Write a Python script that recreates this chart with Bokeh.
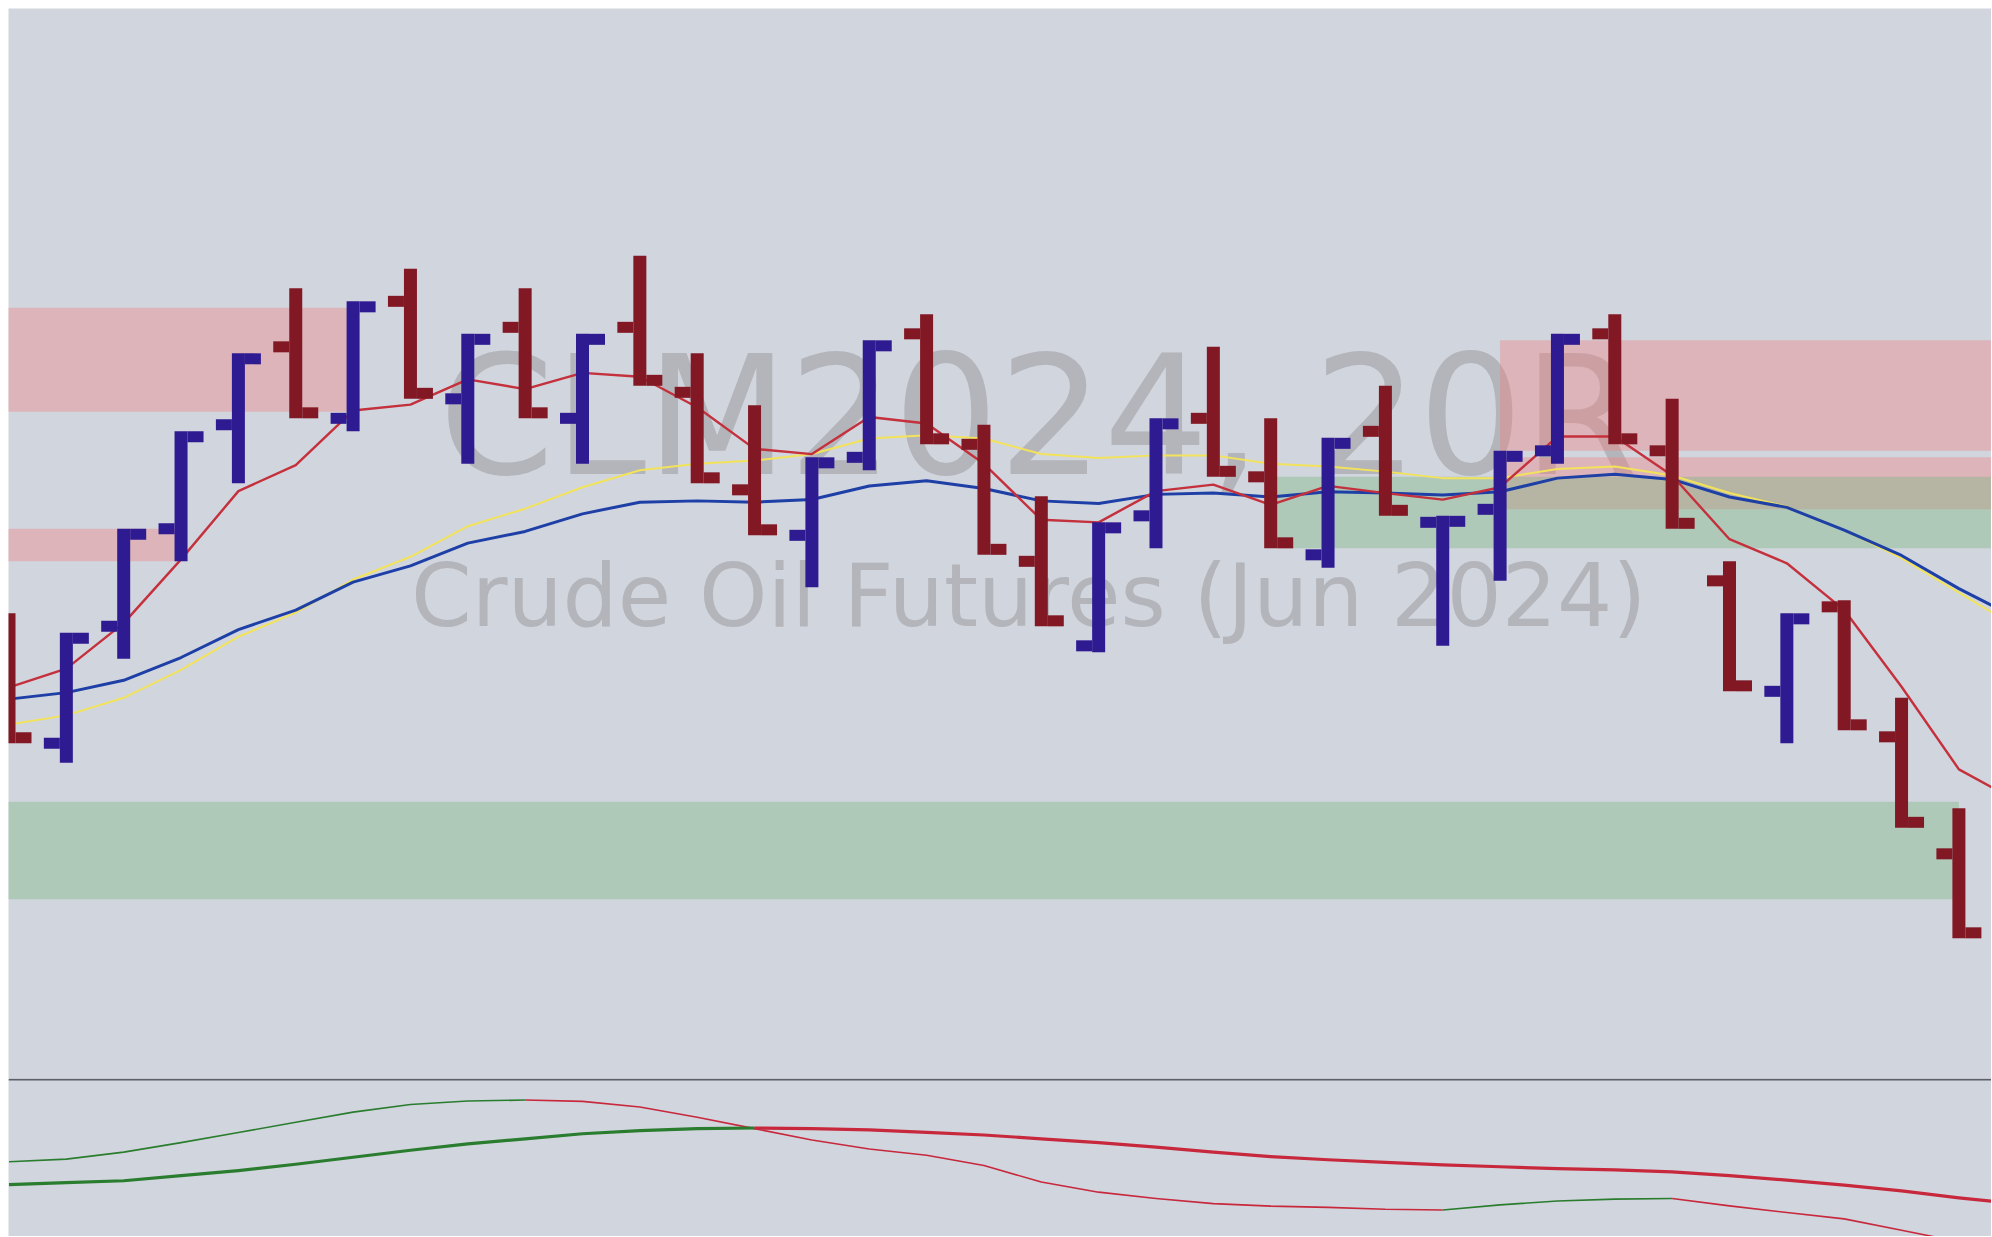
from bokeh.plotting import figure
from bokeh.models import Range1d, Label, ColumnDataSource, Span
from bokeh.layouts import column
from bokeh.transform import dodge
from bokeh.embed import file_html
from bokeh.resources import INLINE

# ---------------- data ----------------
bar_index = list(range(36))
bar_dir = ["dn", "up", "up", "up", "up", "dn", "up", "dn", "up", "dn", "up", "dn",
           "dn", "dn", "up", "up", "dn", "dn", "dn", "up", "up", "dn", "dn", "up",
           "dn", "up", "up", "up", "dn", "dn", "dn", "up", "dn", "dn", "dn", "up"]
opens = [78.83, 78.65, 78.83, 78.98, 79.14, 79.26, 79.15, 79.33, 79.18, 79.29, 79.15, 79.29,
         79.19, 79.04, 78.97, 79.09, 79.28, 79.11, 78.93, 78.80, 79.00, 79.15, 79.06, 78.94,
         79.13, 78.99, 79.01, 79.10, 79.28, 79.10, 78.90, 78.73, 78.86, 78.66, 78.48, 78.31]
highs = [78.85, 78.82, 78.98, 79.13, 79.25, 79.35, 79.33, 79.38, 79.28, 79.35, 79.28, 79.40,
         79.25, 79.17, 79.09, 79.27, 79.31, 79.14, 79.03, 78.99, 79.15, 79.26, 79.15, 79.12,
         79.20, 79.00, 79.10, 79.28, 79.31, 79.18, 78.93, 78.85, 78.87, 78.72, 78.55, 78.50]
lows = [78.65, 78.62, 78.78, 78.93, 79.05, 79.15, 79.13, 79.18, 79.08, 79.15, 79.08, 79.20,
        79.05, 78.97, 78.89, 79.07, 79.11, 78.94, 78.83, 78.79, 78.95, 79.06, 78.95, 78.92,
        79.00, 78.80, 78.90, 79.08, 79.11, 78.98, 78.73, 78.65, 78.67, 78.52, 78.35, 78.30]
closes = [78.65, 78.82, 78.98, 79.13, 79.25, 79.15, 79.33, 79.18, 79.28, 79.15, 79.28, 79.20,
          79.05, 78.97, 79.09, 79.27, 79.11, 78.94, 78.83, 78.99, 79.15, 79.06, 78.95, 79.12,
          79.00, 79.00, 79.10, 79.28, 79.11, 78.98, 78.73, 78.85, 78.67, 78.52, 78.35, 78.50]

ma_fast = [78.736, 78.765, 78.835, 78.933, 79.038, 79.078, 79.162, 79.171, 79.210, 79.195,
           79.220, 79.214, 79.167, 79.103, 79.095, 79.152, 79.142, 79.080, 78.994, 78.990,
           79.038, 79.048, 79.017, 79.046, 79.035, 79.025, 79.044, 79.122, 79.122, 79.062,
           78.964, 78.927, 78.855, 78.737, 78.610, 78.562]
ma_slow = [78.718, 78.728, 78.747, 78.782, 78.825, 78.855, 78.898, 78.923, 78.958, 78.976,
           79.003, 79.021, 79.023, 79.021, 79.025, 79.046, 79.054, 79.042, 79.023, 79.019,
           79.033, 79.035, 79.029, 79.037, 79.035, 79.032, 79.037, 79.058, 79.064, 79.056,
           79.029, 79.013, 78.978, 78.939, 78.888, 78.843]
ma_mid = [78.679, 78.693, 78.720, 78.763, 78.814, 78.851, 78.902, 78.937, 78.984, 79.011,
          79.044, 79.070, 79.080, 79.085, 79.095, 79.119, 79.124, 79.119, 79.095, 79.089,
          79.093, 79.093, 79.080, 79.076, 79.068, 79.058, 79.058, 79.072, 79.076, 79.062,
          79.035, 79.014, 78.978, 78.935, 78.882, 78.829]

# supply / demand zones
zone_kind = ["supply", "supply", "demand", "supply", "supply", "demand"]
zone_start = [-1, -1, -1, 26, 26, 22]
zone_end = [6, 3, 34, 37, 37, 37]
zone_top = [79.32, 78.98, 78.56, 79.27, 79.09, 79.06]
zone_bottom = [79.16, 78.93, 78.41, 79.10, 79.01, 78.95]

# lower panel oscillator
osc_fast = [0.036, 0.038, 0.0435, 0.051, 0.059, 0.067, 0.075, 0.081, 0.0838, 0.0845,
            0.0835, 0.079, 0.071, 0.062, 0.053, 0.046, 0.041, 0.033, 0.020, 0.012,
            0.007, 0.003, 0.001, 0.000, -0.0015, -0.002, 0.002, 0.005, 0.0065, 0.007,
            0.0012, -0.004, -0.009, -0.018, -0.027, -0.037]
osc_slow = [0.018, 0.0195, 0.021, 0.025, 0.029, 0.034, 0.0395, 0.045, 0.050, 0.054,
            0.058, 0.0605, 0.062, 0.0625, 0.062, 0.061, 0.059, 0.057, 0.054, 0.051,
            0.0475, 0.0435, 0.040, 0.0375, 0.0355, 0.0335, 0.032, 0.0305, 0.0295, 0.028,
            0.025, 0.0215, 0.0175, 0.013, 0.0075, 0.003]

title_line1 = "CLM2024, 20R"
title_line2 = "Crude Oil Futures (Jun 2024)"

# ---------------- style ----------------
BG = "#d1d5de"
UP = "#2e1a91"
DN = "#821824"
MARGIN = 8
W = 1991
H1 = 1078            # includes 8px top margin
H2 = 158
FRAME_W = W - MARGIN
FRAME_H1 = H1 - MARGIN
x_rng = (-0.0087, -0.0087 + FRAME_W / 57.35)
y_rng = (79.7805 - FRAME_H1 / 650.0, 79.7805)

xpx = FRAME_W / (x_rng[1] - x_rng[0])   # px per bar
ypx = FRAME_H1 / (y_rng[1] - y_rng[0])  # px per price unit

STEM_W = 13
TICK_L = 16
TICK_T = 11
half_t = (TICK_T / 2.0) / ypx
tick_off = (STEM_W / 2.0 + TICK_L / 2.0) / xpx

def clamp(v, lo, hi):
    return max(lo, min(hi, v))

open_y = [clamp(o, l + half_t, h - half_t) for o, l, h in zip(opens, lows, highs)]
close_y = [clamp(c, l + half_t, h - half_t) for c, l, h in zip(closes, lows, highs)]
colors = [UP if d == "up" else DN for d in bar_dir]

src = ColumnDataSource(dict(x=bar_index, high=highs, low=lows, oy=open_y, cy=close_y, color=colors))

p1 = figure(width=W, height=H1, x_range=Range1d(*x_rng), y_range=Range1d(*y_rng),
            output_backend="svg", toolbar_location=None,
            x_axis_location=None, y_axis_location=None,
            background_fill_color=BG, border_fill_color="white", outline_line_color=None,
            min_border_left=MARGIN, min_border_right=0, min_border_top=MARGIN, min_border_bottom=0)
p1.grid.visible = False

# watermark
for txt, xv, yv, fs in [(title_line1, 17.95, 79.1528, "165px"),
                        (title_line2, 17.78, 78.8765, "87px")]:
    p1.add_layout(Label(x=xv, y=yv, text=txt, text_align="center", text_baseline="alphabetic",
                        text_font="DejaVu Sans", text_font_size=fs, text_color="#b4b5ba",
                        level="underlay"))

# zones (supply first, demand on top)
for kind, col in [("supply", "#f08282"), ("demand", "#7eb782")]:
    idx = [i for i, k in enumerate(zone_kind) if k == kind]
    p1.quad(left=[zone_start[i] for i in idx], right=[zone_end[i] for i in idx],
            top=[zone_top[i] for i in idx], bottom=[zone_bottom[i] for i in idx],
            fill_color=col, fill_alpha=0.4, line_color=None)

# moving averages
p1.line(bar_index, ma_mid, line_color="#f2e35a", line_width=2)
p1.line(bar_index, ma_slow, line_color="#1d3fa6", line_width=3)
p1.line(bar_index, ma_fast, line_color="#c4303c", line_width=2.4)

# range bars
p1.segment(x0="x", y0="low", x1="x", y1="high", source=src, line_color="color",
           line_width=STEM_W, line_cap="butt")
p1.rect(x=dodge("x", -tick_off, range=p1.x_range), y="oy", width=TICK_L, height=TICK_T,
        width_units="screen", height_units="screen", source=src,
        fill_color="color", line_color=None)
p1.rect(x=dodge("x", tick_off, range=p1.x_range), y="cy", width=TICK_L, height=TICK_T,
        width_units="screen", height_units="screen", source=src,
        fill_color="color", line_color=None)

# ---------------- lower panel ----------------
OSC_PX = 1270.4   # px per oscillator unit
osc_top = 0.0999 + 2 / OSC_PX
osc_bottom = osc_top - H2 / OSC_PX
p2 = figure(width=W, height=H2, x_range=p1.x_range, y_range=Range1d(osc_bottom, osc_top),
            output_backend="svg", toolbar_location=None,
            x_axis_location=None, y_axis_location=None,
            background_fill_color=BG, border_fill_color="white", outline_line_color=None,
            min_border_left=MARGIN, min_border_right=0, min_border_top=0, min_border_bottom=0)
p2.grid.visible = False
p2.add_layout(Span(location=osc_top - 1 / OSC_PX, dimension="width",
                   line_color="#5b5f6b", line_width=2))

GREEN = "#2a7d2e"
RED = "#c8283c"

def colored_runs(xs, ys):
    out_x, out_y, out_c = [], [], []
    cur_c = None
    for i in range(len(ys) - 1):
        c = GREEN if ys[i + 1] >= ys[i] else RED
        if c != cur_c:
            out_x.append([xs[i]])
            out_y.append([ys[i]])
            out_c.append(c)
            cur_c = c
        out_x[-1].append(xs[i + 1])
        out_y[-1].append(ys[i + 1])
    return out_x, out_y, out_c

for series, lw in [(osc_fast, 1.6), (osc_slow, 3.2)]:
    xs, ys, cs = colored_runs(bar_index, series)
    p2.multi_line(xs=xs, ys=ys, line_color=cs, line_width=lw, line_join="round")

layout = column(p1, p2, spacing=0)
open("out.html", "w").write(file_html(layout, INLINE))
